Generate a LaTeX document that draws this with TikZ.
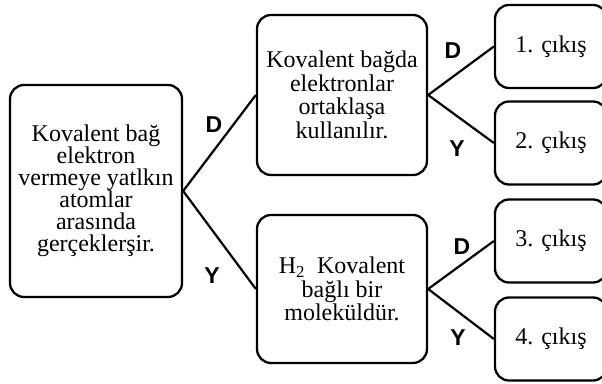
\documentclass[tikz,border=0pt]{standalone}
\usepackage{fontspec}
\setmainfont{Liberation Serif}
\newfontfamily\harffont{Liberation Sans}

\begin{document}
\begin{tikzpicture}[x=1pt, y=1pt,
    kutu/.style={draw, line width=2.3pt, rounded corners=14pt, align=center, inner sep=0pt,
        font=\fontsize{24}{23.5}\selectfont},
    etiket/.style={font=\harffont\bfseries\fontsize{23}{23}\selectfont, inner sep=0pt},
    baglanti/.style={line width=2.2pt}]
    \useasboundingbox (0,0) rectangle (602,383);

    % Starting statement
    \node[kutu, minimum width=172pt, minimum height=212pt, font=\fontsize{24}{22}\selectfont] (kok) at (96,192)
        {Kovalent bağ\\elektron\\vermeye yatlkın\\atomlar\\arasında\\gerçeklerşir.};

    % Second level statements
    \node[kutu, minimum width=170pt, minimum height=160pt] (ust) at (342,288)
        {Kovalent bağda\\elektronlar\\ortaklaşa\\kullanılır.};
    \node[kutu, minimum width=170pt, minimum height=148pt] (alt) at (342,94)
        {H\textsubscript{2}\ \ Kovalent\\bağlı bir\\moleküldür.};

    % Outputs (cut off at the right edge)
    \node[kutu, minimum width=112pt, minimum height=83pt] (c1) at (551,336.5) {1. çıkış};
    \node[kutu, minimum width=112pt, minimum height=83pt] (c2) at (551,240) {2. çıkış};
    \node[kutu, minimum width=112pt, minimum height=83pt] (c3) at (551,142) {3. çıkış};
    \node[kutu, minimum width=112pt, minimum height=83pt] (c4) at (551,44) {4. çıkış};

    % Branches
    \draw[baglanti] (kok.east) -- (ust.west);
    \draw[baglanti] (kok.east) -- (alt.west);
    \draw[baglanti] (ust.east) -- (c1.west);
    \draw[baglanti] (ust.east) -- (c2.west);
    \draw[baglanti] (alt.east) -- (c3.west);
    \draw[baglanti] (alt.east) -- (c4.west);

    % D / Y answers
    \node[etiket] (d1) at (214,258) {D};
    \node[etiket] (y1) at (212,107) {Y};
    \node[etiket] (d2) at (453,332) {D};
    \node[etiket] (y2) at (457,234) {Y};
    \node[etiket] (d3) at (462,136) {D};
    \node[etiket] (y3) at (458,45) {Y};
\end{tikzpicture}
\end{document}
